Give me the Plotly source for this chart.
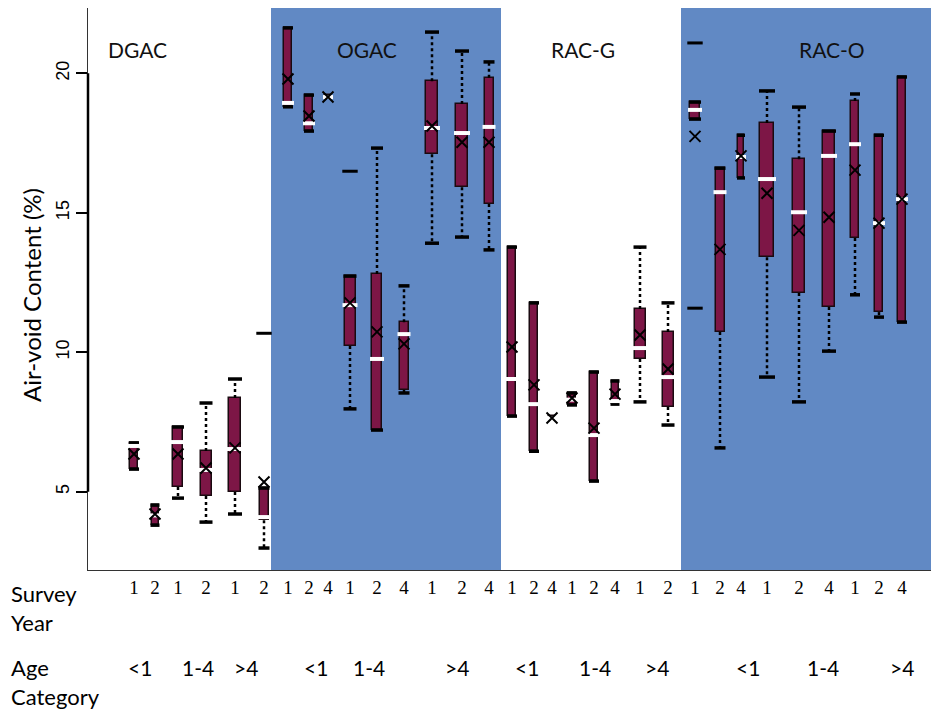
import plotly.graph_objects as go

# ---- data ----
survey_year = ["1", "2", "1", "2", "1", "2",
               "1", "2", "4", "1", "2", "4", "1", "2", "4",
               "1", "2", "4", "1", "2", "4", "1", "2",
               "1", "2", "4", "1", "2", "4", "1", "2", "4"]
upper = [6.75, 4.52, 7.32, 8.18, 9.04, 5.13,
         21.63, 19.22, 19.22, 12.73, 17.32, 12.38, 21.48, 20.80, 20.41,
         13.77, 11.77, 7.70, 8.54, 9.29, 8.97, 13.77, 11.77,
         18.97, 16.60, 17.78, 19.37, 18.79, 17.93, 19.26, 17.78, 19.87]
q3 = [6.75, 4.52, 7.32, 6.46, 8.36, 5.13,
      21.63, 19.22, 19.22, 12.73, 12.81, 11.08, 19.72, 18.90, 19.84,
      13.77, 11.77, 7.70, 8.54, 9.29, 8.97, 11.55, 10.73,
      18.97, 16.60, 17.78, 18.22, 16.92, 17.93, 19.01, 17.78, 19.87]
median = [6.64, 4.15, 6.78, 5.78, 6.53, 4.09,
          18.94, 18.21, 19.15, 11.69, 9.76, 10.65, 18.04, 17.86, 18.08,
          9.04, 8.14, 7.64, 8.30, 7.03, 8.25, 10.15, 9.11,
          18.69, 15.74, 17.00, 16.21, 15.02, 17.04, 17.46, 14.63, 15.49]
mean = [6.35, 4.20, 6.35, 5.85, 6.57, 5.35,
        19.80, 18.47, 19.15, 11.77, 10.73, 10.30, 18.11, 17.53, 17.53,
        10.19, 8.83, 7.64, 8.36, 7.28, 8.50, 10.62, 9.40,
        17.74, 13.69, 17.04, 15.70, 14.37, 14.84, 16.53, 14.63, 15.49]
q1 = [5.81, 3.80, 5.17, 4.85, 4.99, 3.98,
      18.80, 17.93, 19.08, 10.22, 7.21, 8.65, 17.10, 15.92, 15.32,
      7.71, 6.45, 7.58, 8.11, 5.38, 8.14, 9.76, 8.04,
      18.36, 10.73, 16.25, 13.41, 12.12, 11.62, 14.10, 11.44, 11.08]
lower = [5.81, 3.80, 4.77, 3.91, 4.20, 2.98,
         18.80, 17.93, 19.08, 7.97, 7.21, 8.54, 13.91, 14.13, 13.67,
         7.71, 6.45, 7.58, 8.11, 5.38, 8.14, 8.22, 7.39,
         18.36, 6.57, 16.25, 9.11, 8.22, 10.04, 12.06, 11.26, 11.08]
outlier_box = [5, 9, 23, 23]          # index of the box each outlier belongs to
outlier_val = [10.68, 16.49, 21.09, 11.58]

mix_names = ["DGAC", "OGAC", "RAC-G", "RAC-O"]
age_labels = ["<1", "1-4", ">4"] * 4

# ---- layout positions / styles ----
box_x = [134, 155, 178, 206, 235, 264,
         288, 309, 328, 350, 377, 404, 432, 462, 489,
         512, 534, 552, 572, 594, 615, 640, 668,
         695, 720, 741, 767, 799, 829, 855, 879, 902]
box_w = [8, 7, 10, 11, 12, 9,
         8, 8, 6, 11, 10, 9, 12, 12, 9,
         8, 8, 6, 8, 8, 7, 11, 11,
         10, 9, 6, 14, 12, 12, 8, 8, 8]
age_x = [140, 198, 246, 316, 369, 457, 527, 595, 657, 748, 823, 902]
mix_label_x = [137, 367, 583, 832]
band_edges = [88, 271, 501, 681, 939]
band_colors = ["white", "#6189C4", "white", "#6189C4"]

BOX = "#7D1646"
PAGE_W, PAGE_H = 939, 713
OFF = 8                       # default body margin of the html page
PL, PR, PT, PB = 88, 939, 8, 570   # plot area in page pixels
Y0 = 5 + (491.7 - PB) / 27.89
Y1 = 5 + (491.7 - PT) / 27.89


def ypaper(py):
    return (PB - py) / (PB - PT)


def xpaper(px):
    return (px - PL) / (PR - PL)


fig = go.Figure()

fig.add_trace(go.Bar(
    x=box_x, y=[a - b for a, b in zip(q3, q1)], base=q1, width=box_w,
    marker=dict(color=BOX, line=dict(color="#1a0a10", width=1.5)),
    hoverinfo="skip", showlegend=False))

wx, wy = [], []
for i in range(len(box_x)):
    if upper[i] > q3[i] + 0.05:
        wx += [box_x[i], box_x[i], None]
        wy += [q3[i], upper[i], None]
    if lower[i] < q1[i] - 0.05:
        wx += [box_x[i], box_x[i], None]
        wy += [q1[i], lower[i], None]
fig.add_trace(go.Scatter(x=wx, y=wy, mode="lines",
                         line=dict(color="black", width=2.5, dash="dot"),
                         hoverinfo="skip", showlegend=False))

# staples and medians as short horizontal segments
cx, cy = [], []
for i in range(len(box_x)):
    if q3[i] - q1[i] > 0.2:
        h = box_w[i] / 2 + 1
        for v in (upper[i], lower[i]):
            cx += [box_x[i] - h, box_x[i] + h, None]
            cy += [v, v, None]
fig.add_trace(go.Scatter(x=cx, y=cy, mode="lines",
                         line=dict(color="black", width=3.5),
                         hoverinfo="skip", showlegend=False))

mx, my = [], []
for i in range(len(box_x)):
    h = box_w[i] / 2 + 2
    mx += [box_x[i] - h, box_x[i] + h, None]
    my += [median[i], median[i], None]
fig.add_trace(go.Scatter(x=mx, y=my, mode="lines",
                         line=dict(color="white", width=4),
                         hoverinfo="skip", showlegend=False))

fig.add_trace(go.Scatter(x=box_x, y=mean, mode="markers",
                         marker=dict(symbol="x-thin", size=11,
                                     line=dict(color="black", width=2)),
                         hoverinfo="skip", showlegend=False))

fig.add_trace(go.Scatter(x=[box_x[i] for i in outlier_box], y=outlier_val,
                         mode="markers",
                         marker=dict(symbol="line-ew", size=11,
                                     line=dict(color="black", width=3)),
                         hoverinfo="skip", showlegend=False))

shapes = []
for k in range(4):
    shapes.append(dict(type="rect", xref="x", yref="paper",
                       x0=band_edges[k], x1=band_edges[k + 1], y0=0, y1=1,
                       fillcolor=band_colors[k], line=dict(width=0), layer="below"))
shapes.append(dict(type="line", xref="paper", yref="y", x0=0, x1=0, y0=5, y1=20,
                   line=dict(color="black", width=2.5)))

sans = "Lato, Open Sans, sans-serif"
annotations = []
for name, xx in zip(mix_names, mix_label_x):
    annotations.append(dict(x=xx, y=ypaper(50), xref="x", yref="paper", text=name,
                            showarrow=False, font=dict(family=sans, size=21, color="#111"),
                            xanchor="center", yanchor="middle"))
for lab, xx in zip(age_labels, age_x):
    annotations.append(dict(x=xx, y=ypaper(667), xref="x", yref="paper", text=lab,
                            showarrow=False, font=dict(family=sans, size=21, color="black"),
                            xanchor="center", yanchor="middle"))
annotations.append(dict(x=xpaper(9), y=ypaper(608), xref="paper", yref="paper",
                        text="Survey<br>Year", align="left", showarrow=False,
                        font=dict(family=sans, size=22, color="black"),
                        xanchor="left", yanchor="middle"))
annotations.append(dict(x=xpaper(9), y=ypaper(682), xref="paper", yref="paper",
                        text="Age<br>Category", align="left", showarrow=False,
                        font=dict(family=sans, size=22, color="black"),
                        xanchor="left", yanchor="middle"))
annotations.append(dict(x=xpaper(31), y=ypaper(295), xref="paper", yref="paper",
                        text="Air-void Content (%)", textangle=-90, showarrow=False,
                        font=dict(family=sans, size=24, color="black"),
                        xanchor="center", yanchor="middle"))

fig.update_layout(
    width=PAGE_W - OFF, height=PAGE_H - OFF,
    margin=dict(l=PL - OFF, r=0, t=PT - OFF, b=PAGE_H - PB),
    paper_bgcolor="white", plot_bgcolor="white",
    barmode="overlay", bargap=0,
    shapes=shapes, annotations=annotations,
    xaxis=dict(range=[88, 939], tickvals=box_x, ticktext=survey_year,
               ticks="", showgrid=False, zeroline=False,
               showline=True, mirror=True, linecolor="#333", linewidth=1.2,
               tickfont=dict(family="Liberation Serif", size=19, color="black")),
    yaxis=dict(range=[Y0, Y1], tickvals=[5, 10, 15, 20], ticktext=["5", "10", "15", "20"],
               tickangle=-90, ticks="outside", ticklen=11, tickwidth=2, tickcolor="black",
               showgrid=False, zeroline=False,
               showline=True, linecolor="#333", linewidth=1.2,
               tickfont=dict(family="Liberation Sans", size=18, color="black")),
)

fig.write_html("out.html")
